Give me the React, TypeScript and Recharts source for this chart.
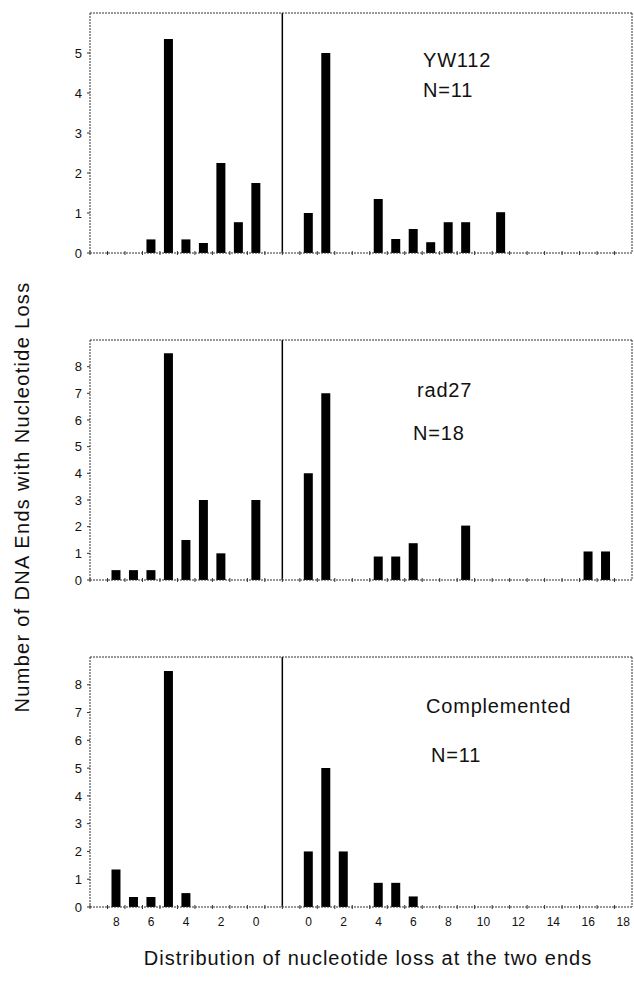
import React from 'react';
import { BarChart, Bar, XAxis, YAxis, ReferenceLine } from 'recharts';

// nucleotide positions on each side of the junction
const leftLoss = [8, 7, 6, 5, 4, 3, 2, 1, 0];
const rightLoss = [0, 1, 2, 3, 4, 5, 6, 7, 8, 9, 10, 11, 12, 13, 14, 15, 16, 17, 18];
const leftTickLabels = ['8', '6', '4', '2', '0'];
const rightTickLabels = ['0', '2', '4', '6', '8', '10', '12', '14', '16', '18'];

// number of DNA ends
const yw112Left = [0, 0, 0.34, 5.35, 0.34, 0.25, 2.25, 0.77, 1.75];
const yw112Right = [1.0, 5.0, 0, 0, 1.35, 0.35, 0.6, 0.27, 0.77, 0.77, 0, 1.02, 0, 0, 0, 0, 0, 0, 0];
const rad27Left = [0.37, 0.37, 0.37, 8.5, 1.5, 3.0, 1.0, 0, 3.0];
const rad27Right = [4.0, 7.0, 0, 0, 0.88, 0.88, 1.38, 0, 0, 2.04, 0, 0, 0, 0, 0, 0, 1.07, 1.07, 0];
const compLeft = [1.35, 0.36, 0.36, 8.5, 0.5, 0, 0, 0, 0];
const compRight = [2.0, 5.0, 2.0, 0, 0.87, 0.87, 0.38, 0, 0, 0, 0, 0, 0, 0, 0, 0, 0, 0, 0];

const yTicks6 = [0, 1, 2, 3, 4, 5];
const yTicks9 = [0, 1, 2, 3, 4, 5, 6, 7, 8];

const FONT = '"Liberation Sans", Arial, Helvetica, sans-serif';
const BAND = 541 / 31;
const FRAME = '#333';
const frameLine = { stroke: FRAME, strokeDasharray: '2 1' };

const tickLabel: Record<string, string> = {};
leftTickLabels.forEach((t) => (tickLabel['L' + t] = t));
rightTickLabels.forEach((t) => (tickLabel['R' + t] = t));

function buildRows(left: number[], right: number[]) {
  const rows: { key: string; v: number | null }[] = [{ key: 'L9', v: null }];
  leftLoss.forEach((n, i) => rows.push({ key: 'L' + n, v: left[i] || null }));
  rows.push({ key: 'gapL', v: null }, { key: 'gapR', v: null });
  rightLoss.forEach((n, i) => rows.push({ key: 'R' + n, v: right[i] || null }));
  return rows;
}

const panels = [
  { rows: buildRows(yw112Left, yw112Right), yMax: 6, ticks: yTicks6, top: 0, height: 263, xH: 10, labels: false },
  { rows: buildRows(rad27Left, rad27Right), yMax: 9, ticks: yTicks9, top: 327, height: 263, xH: 10, labels: false },
  { rows: buildRows(compLeft, compRight), yMax: 9, ticks: yTicks9, top: 644, height: 293, xH: 30, labels: true },
];

function lossTick(showLabels: boolean) {
  return (props: any) => {
    const { x, y, payload } = props;
    const label = tickLabel[payload.value];
    return (
      <g>
        <line x1={x - BAND / 2} x2={x - BAND / 2} y1={y - 2} y2={y + 2} stroke={FRAME} />
        {showLabels && label ? (
          <text x={x} y={y + 19} textAnchor="middle" fontSize={12} fontFamily={FONT} fill="#111">
            {label}
          </text>
        ) : null}
      </g>
    );
  };
}

function Panel({ p }: { p: (typeof panels)[number] }) {
  return (
    <div style={{ position: 'absolute', left: 0, top: p.top }}>
      <BarChart
        width={634}
        height={p.height}
        data={p.rows}
        margin={{ top: 12, right: 1, bottom: 0, left: 0 }}
        barCategoryGap={0}
      >
        <XAxis
          dataKey="key"
          interval={0}
          height={p.xH}
          tickSize={0}
          tickMargin={0}
          tickLine={false}
          axisLine={frameLine}
          tick={lossTick(p.labels)}
        />
        <XAxis
          xAxisId="top"
          dataKey="key"
          orientation="top"
          height={1}
          tick={false}
          tickLine={false}
          axisLine={frameLine}
        />
        <YAxis
          width={90}
          domain={[0, p.yMax]}
          ticks={p.ticks}
          interval={0}
          tickSize={3}
          tickMargin={5}
          tickLine={{ stroke: FRAME }}
          axisLine={frameLine}
          tick={{ fontSize: 13, fill: '#111', fontFamily: FONT }}
        />
        <YAxis
          yAxisId="right"
          orientation="right"
          width={1}
          domain={[0, p.yMax]}
          tick={false}
          tickLine={false}
          axisLine={frameLine}
        />
        <ReferenceLine x="gapR" position="start" stroke="#000" strokeWidth={1.5} />
        <Bar dataKey="v" fill="#000" barSize={9} isAnimationActive={false} />
      </BarChart>
    </div>
  );
}

export default function App() {
  return (
    <div style={{ position: 'absolute', left: 0, top: 0, width: 634, height: 981, background: '#fff', fontFamily: FONT }}>
      {panels.map((p, i) => (
        <Panel key={i} p={p} />
      ))}
      <svg width={634} height={981} style={{ position: 'absolute', left: 0, top: 0, pointerEvents: 'none' }}>
        <g fontFamily={FONT} fontSize={20} fill="#111" letterSpacing={0.8}>
          <text x={423} y={67}>YW112</text>
          <text x={423} y={97}>N=11</text>
          <text x={417} y={397}>rad27</text>
          <text x={413} y={440}>N=18</text>
          <text x={426} y={713}>Complemented</text>
          <text x={431} y={762}>N=11</text>
        </g>
        <text x={368} y={965} textAnchor="middle" fontFamily={FONT} fontSize={20} letterSpacing={1} fill="#111">
          Distribution of nucleotide loss at the two ends
        </text>
        <text
          x={0}
          y={0}
          transform="translate(29, 497) rotate(-90)"
          textAnchor="middle"
          fontFamily={FONT}
          fontSize={20}
          letterSpacing={1.3}
          fill="#111"
        >
          Number of DNA Ends with Nucleotide Loss
        </text>
      </svg>
    </div>
  );
}
